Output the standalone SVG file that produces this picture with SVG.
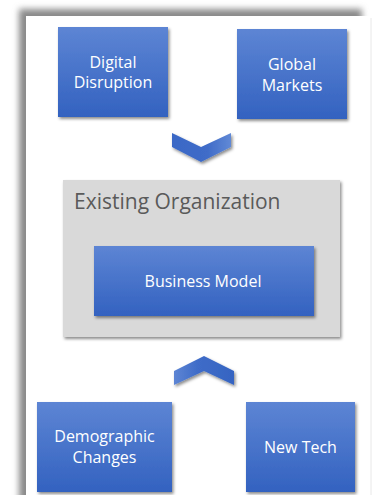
<svg xmlns="http://www.w3.org/2000/svg" width="374" height="495" viewBox="0 0 374 495">
  <defs>
    <linearGradient id="blueV" x1="0" y1="0" x2="0" y2="1">
      <stop offset="0" stop-color="#5d85d4"/>
      <stop offset="1" stop-color="#3362c0"/>
    </linearGradient>
    <linearGradient id="blueH" x1="0" y1="0" x2="1" y2="0">
      <stop offset="0" stop-color="#3a68c6"/>
      <stop offset="0.6" stop-color="#3f6cc8"/>
      <stop offset="1" stop-color="#6189d6"/>
    </linearGradient>
    <linearGradient id="blueH2" x1="0" y1="0" x2="1" y2="0">
      <stop offset="0" stop-color="#5d85d4"/>
      <stop offset="0.4" stop-color="#3f6cc8"/>
      <stop offset="1" stop-color="#3564c2"/>
    </linearGradient>
    <filter id="frameShadow" x="-10%" y="-10%" width="120%" height="120%">
      <feGaussianBlur stdDeviation="3"/>
    </filter>
    <filter id="shadow" x="-20%" y="-20%" width="140%" height="140%">
      <feDropShadow dx="1.5" dy="2" stdDeviation="1.5" flood-color="#000" flood-opacity="0.45"/>
    </filter>
  </defs>
  <style>
    .box { fill: url(#blueV); filter: url(#shadow); }
    .lbl { font-family: "Open Sans", "Liberation Sans", sans-serif; font-size: 16px; fill: #ffffff; text-anchor: middle; }
    .org { fill: #d9d9d9; filter: url(#shadow); }
    .orgLbl { font-family: "Open Sans", "Liberation Sans", sans-serif; font-size: 21px; fill: #5a5a5a; }
  </style>

  <rect x="0" y="0" width="374" height="495" fill="#ffffff"/>
  <!-- page frame with shadow -->
  <g id="frame">
    <rect x="19" y="9" width="343" height="500" fill="#8a8a8a" filter="url(#frameShadow)"/>
    <line x1="371" y1="18" x2="371" y2="495" stroke="#e8e8e8" stroke-width="1"/>
    <rect x="26" y="16" width="344" height="490" fill="#ffffff"/>
  </g>

  <g id="digital-disruption">
    <rect class="box" x="58" y="27" width="110" height="90"/>
    <text class="lbl" x="113" y="68">Digital</text>
    <text class="lbl" x="113" y="88">Disruption</text>
  </g>

  <g id="global-markets">
    <rect class="box" x="237" y="29" width="110" height="90"/>
    <text class="lbl" x="292" y="70">Global</text>
    <text class="lbl" x="292" y="91">Markets</text>
  </g>

  <g id="existing-organization">
    <rect class="org" x="63" y="180" width="277" height="157"/>
    <text class="orgLbl" x="74" y="209">Existing Organization</text>
  </g>

  <g id="business-model">
    <rect class="box" x="94" y="246" width="220" height="70"/>
    <text class="lbl" x="203" y="287">Business Model</text>
  </g>

  <g id="demographic-changes">
    <rect class="box" x="37" y="402" width="135" height="90"/>
    <text class="lbl" x="104.5" y="442">Demographic</text>
    <text class="lbl" x="104.5" y="463">Changes</text>
  </g>

  <g id="new-tech">
    <rect class="box" x="246" y="402" width="109" height="90"/>
    <text class="lbl" x="300.5" y="453">New Tech</text>
  </g>

  <g id="connectors">
    <polygon points="172,133 201,147 231,133 231,147 201,162 172,147" fill="url(#blueH)" filter="url(#shadow)"/>
    <polygon points="204,356 234,371 234,385 204,371 174,385 174,371" fill="url(#blueH2)" filter="url(#shadow)"/>
  </g>
</svg>
